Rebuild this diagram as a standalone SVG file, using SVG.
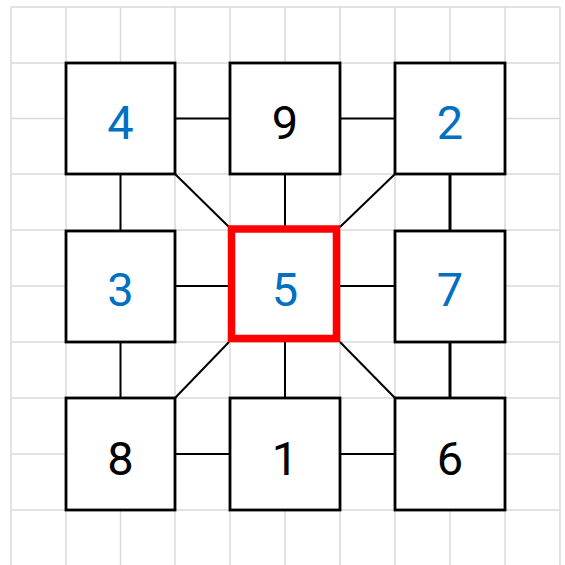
<svg xmlns="http://www.w3.org/2000/svg" width="565" height="565" viewBox="0 0 565 565">
<style>
.grid line{stroke:#d9d9d9;stroke-width:1.5}
.box{fill:#fff;stroke:#000;stroke-width:2.8}
.hl{fill:#fff;stroke:#ff0000;stroke-width:7.5}
.conn line{stroke:#000;stroke-width:2}
text{font-family:Roboto,"Liberation Sans",sans-serif;font-size:47px;text-anchor:middle}
.b{fill:#0070c0}
.k{fill:#000}
</style>
<rect width="565" height="565" fill="#fff"/>
<g class="grid">
<line x1="11" y1="7" x2="11" y2="565"/>
<line x1="66" y1="7" x2="66" y2="565"/>
<line x1="120.5" y1="7" x2="120.5" y2="565"/>
<line x1="175" y1="7" x2="175" y2="565"/>
<line x1="230" y1="7" x2="230" y2="565"/>
<line x1="285" y1="7" x2="285" y2="565"/>
<line x1="340" y1="7" x2="340" y2="565"/>
<line x1="395" y1="7" x2="395" y2="565"/>
<line x1="450" y1="7" x2="450" y2="565"/>
<line x1="505" y1="7" x2="505" y2="565"/>
<line x1="560" y1="7" x2="560" y2="565"/>
<line x1="11" y1="7" x2="560" y2="7"/>
<line x1="11" y1="63" x2="560" y2="63"/>
<line x1="11" y1="118.5" x2="560" y2="118.5"/>
<line x1="11" y1="174" x2="560" y2="174"/>
<line x1="11" y1="230" x2="560" y2="230"/>
<line x1="11" y1="286" x2="560" y2="286"/>
<line x1="11" y1="342" x2="560" y2="342"/>
<line x1="11" y1="398" x2="560" y2="398"/>
<line x1="11" y1="454" x2="560" y2="454"/>
<line x1="11" y1="510" x2="560" y2="510"/>
</g>
<g class="conn" id="connectors">
<line x1="175" y1="118.5" x2="230" y2="118.5"/>
<line x1="340" y1="118.5" x2="395" y2="118.5"/>
<line x1="175" y1="286" x2="230" y2="286"/>
<line x1="340" y1="286" x2="395" y2="286"/>
<line x1="175" y1="454" x2="230" y2="454"/>
<line x1="340" y1="454" x2="395" y2="454"/>
<line x1="120.5" y1="174" x2="120.5" y2="230"/>
<line x1="120.5" y1="342" x2="120.5" y2="398"/>
<line x1="285" y1="174" x2="285" y2="226"/>
<line x1="285" y1="342" x2="285" y2="398"/>
<line x1="450" y1="174" x2="450" y2="230" style="stroke-width:3"/>
<line x1="450" y1="342" x2="450" y2="398" style="stroke-width:3"/>
<line x1="175" y1="174" x2="229" y2="227"/>
<line x1="395" y1="174" x2="340" y2="227"/>
<line x1="175" y1="398" x2="229" y2="342"/>
<line x1="395" y1="398" x2="340" y2="342"/>
</g>
<g id="n4"><rect class="box" x="66" y="63" width="109" height="111"/><text class="b" x="120.5" y="138.5">4</text></g>
<g id="n9"><rect class="box" x="230" y="63" width="110" height="111"/><text class="k" x="285" y="138.5">9</text></g>
<g id="n2"><rect class="box" x="395" y="63" width="110" height="111"/><text class="b" x="450" y="138.5">2</text></g>
<g id="n3"><rect class="box" x="66" y="231" width="109" height="111"/><text class="b" x="120.5" y="306">3</text></g>
<g id="n5"><rect class="hl" x="231.5" y="229" width="105" height="109.5"/><text class="b" x="285" y="306">5</text></g>
<g id="n7"><rect class="box" x="395" y="231" width="110" height="111"/><text class="b" x="450" y="306">7</text></g>
<g id="n8"><rect class="box" x="66" y="398" width="109" height="112"/><text class="k" x="120.5" y="474.5">8</text></g>
<g id="n1"><rect class="box" x="230" y="398" width="110" height="112"/><text class="k" x="285" y="474.5">1</text></g>
<g id="n6"><rect class="box" x="395" y="398" width="110" height="112"/><text class="k" x="450" y="474.5">6</text></g>
</svg>
